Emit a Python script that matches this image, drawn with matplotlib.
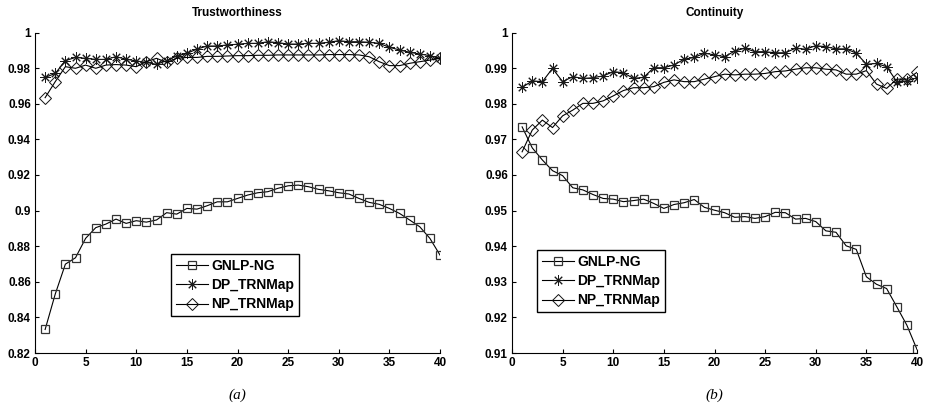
import numpy as np
import matplotlib
matplotlib.use("Agg")
import matplotlib.pyplot as plt
from matplotlib.ticker import FuncFormatter

plt.rcParams["font.family"] = ["Liberation Sans", "DejaVu Sans"]

x = np.arange(1, 41)

# (a) Trustworthiness
trust_gnlp = [0.8332, 0.8531, 0.8699, 0.8735, 0.8844, 0.8904, 0.8924, 0.8952, 0.8928, 0.8943,
              0.8935, 0.8947, 0.8988, 0.8980, 0.9012, 0.9008, 0.9027, 0.9049, 0.9049, 0.9068,
              0.9087, 0.9100, 0.9106, 0.9125, 0.9139, 0.9143, 0.9134, 0.9119, 0.9111, 0.9100,
              0.9093, 0.9068, 0.9046, 0.9035, 0.9012, 0.8984, 0.8947, 0.8909, 0.8844, 0.8750]
trust_dp = [0.9748, 0.9770, 0.9842, 0.9860, 0.9855, 0.9849, 0.9849, 0.9864, 0.9850, 0.9840,
            0.9832, 0.9821, 0.9842, 0.9868, 0.9883, 0.9907, 0.9924, 0.9924, 0.9930, 0.9934,
            0.9939, 0.9939, 0.9948, 0.9943, 0.9935, 0.9935, 0.9939, 0.9939, 0.9945, 0.9954,
            0.9948, 0.9948, 0.9945, 0.9939, 0.9917, 0.9902, 0.9889, 0.9879, 0.9870, 0.9855]
trust_np = [0.9634, 0.9724, 0.9808, 0.9799, 0.9817, 0.9799, 0.9817, 0.9820, 0.9817, 0.9808,
            0.9836, 0.9855, 0.9832, 0.9855, 0.9860, 0.9860, 0.9866, 0.9866, 0.9868, 0.9870,
            0.9870, 0.9872, 0.9872, 0.9874, 0.9874, 0.9874, 0.9874, 0.9874, 0.9876, 0.9876,
            0.9876, 0.9874, 0.9864, 0.9836, 0.9814, 0.9814, 0.9827, 0.9836, 0.9845, 0.9855]

# (b) Continuity
cont_gnlp = [0.9735, 0.9676, 0.9642, 0.9612, 0.9598, 0.9564, 0.9558, 0.9545, 0.9534, 0.9532,
             0.9525, 0.9528, 0.9532, 0.9520, 0.9506, 0.9517, 0.9522, 0.9531, 0.9509, 0.9501,
             0.9494, 0.9481, 0.9483, 0.9478, 0.9483, 0.9495, 0.9494, 0.9476, 0.9478, 0.9469,
             0.9443, 0.9439, 0.9401, 0.9391, 0.9314, 0.9293, 0.9281, 0.9230, 0.9178, 0.9110]
cont_dp = [0.9846, 0.9864, 0.9862, 0.9899, 0.9862, 0.9876, 0.9871, 0.9873, 0.9878, 0.9890,
           0.9887, 0.9871, 0.9874, 0.9901, 0.9901, 0.9909, 0.9925, 0.9930, 0.9942, 0.9937,
           0.9932, 0.9948, 0.9956, 0.9946, 0.9946, 0.9943, 0.9943, 0.9956, 0.9953, 0.9963,
           0.9960, 0.9954, 0.9954, 0.9942, 0.9911, 0.9913, 0.9904, 0.9862, 0.9864, 0.9873]
cont_np = [0.9665, 0.9726, 0.9754, 0.9733, 0.9766, 0.9782, 0.9801, 0.9801, 0.9808, 0.9822,
           0.9837, 0.9845, 0.9845, 0.9848, 0.9860, 0.9867, 0.9862, 0.9862, 0.9869, 0.9876,
           0.9883, 0.9881, 0.9883, 0.9883, 0.9885, 0.9890, 0.9892, 0.9897, 0.9901, 0.9901,
           0.9897, 0.9895, 0.9883, 0.9883, 0.9893, 0.9855, 0.9843, 0.9869, 0.9869, 0.9888]

labels = ["GNLP-NG", "DP_TRNMap", "NP_TRNMap"]
fig = plt.figure(figsize=(9.3, 4.13), dpi=100)
W, H = 930., 413.


def draw(ax, g, d, n, title, yt, ylim, leg_xy, cap):
    kw = dict(color="k", lw=0.8, mfc="none")
    ax.plot(x, g, marker="s", ms=5.5, mec="#333333", mew=0.9, label=labels[0], **kw)
    ax.plot(x, d, marker=(8, 2, 0), ms=7.5, mec="#1a1a1a", mew=0.7, label=labels[1], **kw)
    ax.plot(x, n, marker="D", ms=6.5, mec="#111111", mew=0.7, label=labels[2], **kw)
    ax.set_xlim(0, 40)
    ax.set_ylim(*ylim)
    ax.set_xticks(range(0, 41, 5))
    ax.set_yticks(yt)
    ax.yaxis.set_major_formatter(FuncFormatter(lambda v, p: ("%g" % round(v, 3))))
    for s in ["top", "right"]:
        ax.spines[s].set_visible(False)
    ax.tick_params(direction="in", length=3, width=0.8, labelsize=8.5, pad=3)
    for t in ax.get_xticklabels() + ax.get_yticklabels():
        t.set_fontweight("bold")
    ax.set_title(title, fontsize=8.5, fontweight="bold", pad=12)
    leg = ax.legend(loc="upper left", bbox_to_anchor=(leg_xy[0] / W, 1 - leg_xy[1] / H),
                    bbox_transform=fig.transFigure, borderaxespad=0, fancybox=False,
                    framealpha=1, edgecolor="k", handlelength=2.3, handletextpad=0.25,
                    labelspacing=0.38, borderpad=0.35, prop={"weight": "bold", "size": 10})
    leg.get_frame().set_linewidth(1.0)
    pos = ax.get_position()
    fig.text(pos.x0 + pos.width / 2, 1 - 395 / H, cap, ha="center", va="center",
             fontsize=11, style="italic", family=["Liberation Serif", "DejaVu Serif"])


ax1 = fig.add_axes([35 / W, 1 - 353 / H, 405 / W, 320.5 / H])
draw(ax1, trust_gnlp, trust_dp, trust_np, "Trustworthiness",
     np.arange(0.82, 1.001, 0.02), (0.82, 1.0), (171, 254), "(a)")

ax2 = fig.add_axes([512 / W, 1 - 353 / H, 405 / W, 320.5 / H])
draw(ax2, cont_gnlp, cont_dp, cont_np, "Continuity",
     np.arange(0.91, 1.0001, 0.01), (0.91, 1.0), (537, 250), "(b)")

fig.savefig("out.png", dpi=100)
